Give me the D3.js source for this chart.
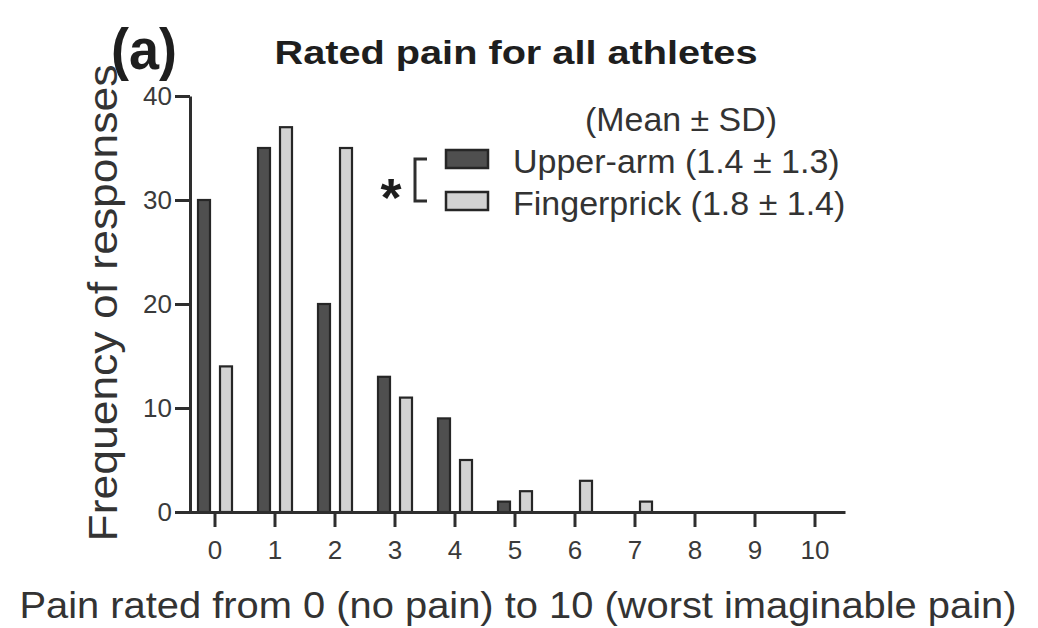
<!DOCTYPE html>
<html>
<head>
	<title>Rated pain for all athletes</title>
	<script src="https://cdn.jsdelivr.net/npm/d3@7"></script>
	<style>
		body { margin: 0; background: #fff; }
		text { font-family: "Liberation Sans", Arial, sans-serif; }
	</style>
</head>
<body>
	<script>

		// pain scores on the x axis
		var ratings = [0, 1, 2, 3, 4, 5, 6, 7, 8, 9, 10];
		// frequency of responses per score
		var upperArm    = [30, 35, 20, 13, 9, 1, 0, 0, 0, 0, 0];
		var fingerprick = [14, 37, 35, 11, 5, 2, 3, 1, 0, 0, 0];
		var yTicks = [0, 10, 20, 30, 40];

		var seriesNames = ["Upper-arm (1.4 \u00b1 1.3)", "Fingerprick (1.8 \u00b1 1.4)"];
		var seriesKeys = ["upper", "finger"];
		var fills = { upper: "#4f4f4f", finger: "#d3d3d3" };

		var width = 1038;
		var height = 628;

		var svg = d3.select("body").append("svg")
			.attr("width", width)
			.attr("height", height);

		var x = d3.scaleBand()
			.domain(ratings)
			.range([185, 845]);

		var xInner = d3.scaleBand()
			.domain(seriesKeys)
			.range([0, x.bandwidth()])
			.paddingInner(0.4545)
			.paddingOuter(0.591);

		var y = d3.scaleLinear()
			.domain([0, 40])
			.range([512, 96]);

		var rows = ratings.map(function(r, i) {
			return { rating: r, upper: upperArm[i], finger: fingerprick[i] };
		});

		// bars
		var groups = svg.append("g").selectAll("g")
			.data(rows)
			.enter().append("g")
			.attr("transform", function(d) { return "translate(" + x(d.rating) + ",0)"; });

		groups.selectAll("rect")
			.data(function(d) {
				return seriesKeys.map(function(k) { return { key: k, value: d[k] }; })
					.filter(function(e) { return e.value > 0; });
			})
			.enter().append("rect")
			.attr("x", function(d) { return xInner(d.key); })
			.attr("width", xInner.bandwidth())
			.attr("y", function(d) { return y(d.value); })
			.attr("height", function(d) { return y(0) - y(d.value); })
			.attr("fill", function(d) { return fills[d.key]; })
			.attr("stroke", "#262626")
			.attr("stroke-width", 2.2);

		// axes
		var xAxis = svg.append("g")
			.attr("transform", "translate(0," + y(0) + ")")
			.call(d3.axisBottom(x).tickSize(15).tickSizeOuter(0).tickPadding(14));

		var yAxis = svg.append("g")
			.attr("transform", "translate(190,0)")
			.call(d3.axisLeft(y).tickValues(yTicks).tickSize(15).tickSizeOuter(0).tickPadding(3));

		[xAxis, yAxis].forEach(function(a) {
			a.selectAll("path, line").attr("stroke", "#2e2e2e").attr("stroke-width", 3);
			a.selectAll("text")
				.attr("fill", "#3a3a3a")
				.style("font-size", "26px")
				.style("font-family", "'Liberation Sans', Arial, sans-serif");
		});

		// labels
		function label(txt, px, py, size, weight, len, anchor) {
			var t = svg.append("text")
				.attr("x", px)
				.attr("y", py)
				.attr("text-anchor", anchor || "middle")
				.attr("fill", weight === "bold" ? "#1e1e1e" : "#333")
				.style("font-size", size + "px")
				.style("font-weight", weight)
				.text(txt);
			if (len) t.attr("textLength", len).attr("lengthAdjust", "spacingAndGlyphs");
			return t;
		}

		label("(a)", 111, 69, 58, "bold", 66, "start");
		label("Rated pain for all athletes", 516, 64, 33, "bold", 483);
		label("Pain rated from 0 (no pain) to 10 (worst imaginable pain)", 518, 618, 37, "normal", 997);

		label("Frequency of responses", 0, 0, 40, "normal", 477)
			.attr("transform", "translate(117,303) rotate(-90)");

		// legend
		label("(Mean \u00b1 SD)", 681, 131, 34, "normal", 192);

		var legend = svg.append("g").selectAll("g")
			.data(seriesKeys)
			.enter().append("g")
			.attr("transform", function(d, i) { return "translate(446," + (150 + i * 42) + ")"; });

		legend.append("rect")
			.attr("width", 42)
			.attr("height", 18)
			.attr("fill", function(d) { return fills[d]; })
			.attr("stroke", "#262626")
			.attr("stroke-width", 2.5);

		legend.append("text")
			.attr("x", 67)
			.attr("y", 23)
			.attr("fill", "#333")
			.style("font-size", "34px")
			.text(function(d, i) { return seriesNames[i]; });

		// significance bracket
		svg.append("path")
			.attr("d", "M427,159H415V201H427")
			.attr("fill", "none")
			.attr("stroke", "#2e2e2e")
			.attr("stroke-width", 3);

		label("*", 391, 216, 54, "bold", null);

	</script>
</body>
</html>
